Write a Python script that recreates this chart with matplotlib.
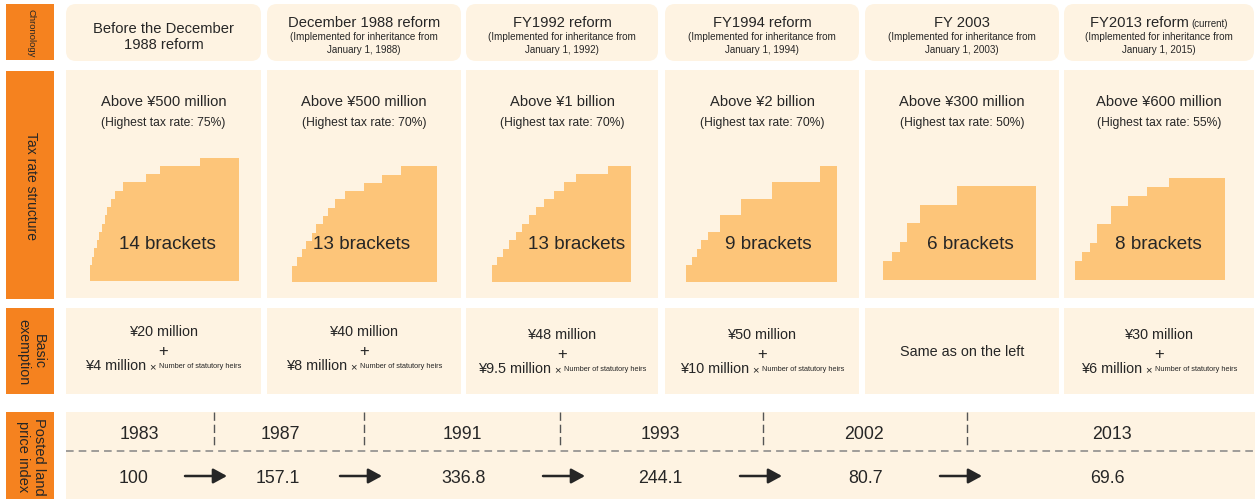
import matplotlib.pyplot as plt
from matplotlib.patches import Rectangle, FancyBboxPatch, Polygon

plt.rcParams['font.family'] = ['Liberation Sans', 'DejaVu Sans']

ORANGE = '#f5821f'
CREAM = '#fef3e2'
STAIR = '#fdc579'
TXT = '#262626'

# ---- data ----
row_labels = ['Chronology', 'Tax rate structure', 'Basic\nexemption', 'Posted land\nprice index']

reform_titles = ['Before the December\n1988 reform', 'December 1988 reform', 'FY1992 reform',
                 'FY1994 reform', 'FY 2003', 'FY2013 reform']
effective_from = [None, 'January 1, 1988', 'January 1, 1992', 'January 1, 1994',
                  'January 1, 2003', 'January 1, 2015']

top_bracket = ['¥500 million', '¥500 million', '¥1 billion', '¥2 billion', '¥300 million', '¥600 million']

# tax rate (%) of each bracket, lowest to highest
bracket_rates = [
    [10, 15, 20, 25, 30, 35, 40, 45, 50, 55, 60, 65, 70, 75],
    [10, 15, 20, 25, 30, 35, 40, 45, 50, 55, 60, 65, 70],
    [10, 15, 20, 25, 30, 35, 40, 45, 50, 55, 60, 65, 70],
    [10, 15, 20, 25, 30, 40, 50, 60, 70],
    [10, 15, 20, 30, 40, 50],
    [10, 15, 20, 30, 40, 45, 50, 55],
]
# drawn width of each bracket step (relative units)
bracket_spans = [
    [2.7, 2.0, 2.3, 2.3, 2.7, 3.0, 2.3, 4.0, 4.3, 7.3, 23.3, 14.3, 39.3, 39.7],
    [5.0, 4.3, 4.7, 5.3, 4.3, 6.7, 5.0, 7.7, 10.0, 18.3, 18.0, 19.3, 36.3],
    [5.0, 5.3, 6.3, 7.0, 6.3, 6.7, 7.0, 8.0, 10.0, 10.3, 12.0, 31.3, 23.3],
    [5.7, 5.0, 4.0, 7.7, 11.7, 21.0, 31.0, 48.0, 17.0],
    [8.3, 8.3, 7.3, 13.0, 36.7, 78.7],
    [7.3, 7.7, 6.7, 14.0, 17.7, 19.0, 21.7, 56.0],
]

base_exemption = [20, 40, 48, 50, None, 30]      # ¥ million
per_heir = [4, 8, 9.5, 10, None, 6]              # ¥ million

index_years = ['1983', '1987', '1991', '1993', '2002', '2013']
land_index = ['100', '157.1', '336.8', '244.1', '80.7', '69.6']

# ---- layout (pixels) ----
col_left = [66, 267, 466, 665, 865, 1064]
col_w = [195, 194, 192, 194, 194, 190]
stair_x0 = [89.7, 292.3, 492.3, 686, 883.3, 1075]
stair_base = [282.3, 283.3, 282.7, 282.7, 280.7, 280.7]
stair_scale = [1.65, 1.657, 1.657, 1.657, 1.88, 1.85]   # px per percentage point
stair_label_x = [167, 362, 577, 768, 970, 1158]
ex_dy = [0, 0, 3, 3, 0, 3]

year_x = [139.5, 280.5, 462, 660, 864, 1112]
value_x = [134, 278, 464, 660, 866, 1107]
divider_x = [214, 364, 560, 763, 967]
arrow_x = [185, 340, 543, 740, 940]


def chain(ax, cx, y, parts, va='center'):
    # parts: (text, fontsize, dy, gap_before); whole group centred on cx
    r = ax.figure.canvas.get_renderer()
    items = []
    for s, fs, dy, gap in parts:
        t = ax.text(0, y + dy, s, fontsize=fs, ha='left', va=va, color=TXT)
        items.append((t, t.get_window_extent(renderer=r).width, gap))
    total = sum(w + g for _, w, g in items)
    x = cx - total / 2
    for t, w, g in items:
        x += g
        t.set_x(x)
        x += w


fig = plt.figure(figsize=(12.55, 5.02), dpi=100)
ax = fig.add_axes([0, 0, 1, 1])
ax.set_xlim(0, 1255)
ax.set_ylim(502, 0)
ax.axis('off')

# left labels
label_rows = [(5, 61, 6.8), (72, 300, 10), (309, 395, 10.3), (413, 500, 10.5)]
for lab, (y0, y1, fs) in zip(row_labels, label_rows):
    ax.add_patch(Rectangle((6, y0), 48, y1 - y0, color=ORANGE, lw=0))
    ax.text(31, (y0 + y1) / 2, lab, rotation=270, ha='center', va='center',
            fontsize=fs, color=TXT, linespacing=1.15, multialignment='center')

for i in range(6):
    x0, w = col_left[i], col_w[i]
    cx = x0 + w / 2

    # chronology header
    ax.add_patch(FancyBboxPatch((x0 + 10, 15), w - 20, 37,
                                boxstyle='round,pad=10,rounding_size=10', color=CREAM, lw=0))
    if effective_from[i] is None:
        ax.text(cx, 36.7, reform_titles[i], ha='center', va='center', fontsize=10.6,
                color=TXT, linespacing=1.2)
    else:
        if i == 5:
            chain(ax, cx, 27, [(reform_titles[i], 10.6, 0, 0), ('(current)', 6.9, 0, 3)],
                  va='baseline')
        else:
            ax.text(cx, 22.7, reform_titles[i], ha='center', va='center', fontsize=10.6, color=TXT)
        ax.text(cx, 37.3, '(Implemented for inheritance from', ha='center', va='center',
                fontsize=7.1, color=TXT)
        ax.text(cx, 50, effective_from[i] + ')', ha='center', va='center', fontsize=7.1, color=TXT)

    # tax rate structure
    ax.add_patch(Rectangle((x0, 71), w, 228, color=CREAM, lw=0))
    rates = bracket_rates[i]
    ax.text(cx, 101.7, 'Above ' + top_bracket[i], ha='center', va='center', fontsize=10.6, color=TXT)
    ax.text(cx, 123.3, f'(Highest tax rate: {max(rates)}%)', ha='center', va='center',
            fontsize=8.7, color=TXT)

    spans = bracket_spans[i]
    base, sc = stair_base[i], stair_scale[i]
    xs = stair_x0[i]
    pts = [(xs, base)]
    for span, rate in zip(spans, rates):
        pts.append((xs, base - rate * sc))
        xs += span
        pts.append((xs, base - rate * sc))
    pts.append((xs, base))
    ax.add_patch(Polygon(pts, closed=True, color=STAIR, lw=0))
    ax.text(stair_label_x[i], 245, f'{len(rates)} brackets', ha='center', va='center',
            fontsize=13.6, color=TXT)

    # basic exemption
    ax.add_patch(Rectangle((x0, 309), w, 86, color=CREAM, lw=0))
    if base_exemption[i] is None:
        ax.text(cx, 352, 'Same as on the left', ha='center', va='center', fontsize=10.4, color=TXT)
    else:
        d = ex_dy[i]
        ax.text(cx, 332 + d, f'¥{base_exemption[i]:g} million', ha='center', va='center',
                fontsize=10.4, color=TXT)
        ax.text(cx, 352 + d, '+', ha='center', va='center', fontsize=12, color=TXT)
        chain(ax, cx, 366 + d, [(f'¥{per_heir[i]:g} million', 10.4, 0, 0),
                                ('×', 8, 1.5, 3),
                                ('Number of statutory heirs', 5.3, 0.5, 3)])

# posted land price index
ax.add_patch(Rectangle((66, 413), 1189, 87, color=CREAM, lw=0))
ax.plot([66, 1255], [452, 452], color='#858585', lw=1.1, ls=(0, (5, 3.3)))
for xd in divider_x:
    ax.plot([xd, xd], [413, 447], color='#555555', lw=1.0, ls=(0, (6, 2.8)))
for yr, xv in zip(index_years, year_x):
    ax.text(xv, 435, yr, ha='center', va='center', fontsize=12.8, color=TXT)
for v, xv in zip(land_index, value_x):
    ax.text(xv, 479, v, ha='center', va='center', fontsize=12.8, color=TXT)
for xa in arrow_x:
    ax.annotate('', xy=(xa + 42, 477), xytext=(xa, 477),
                arrowprops=dict(arrowstyle='-|>,head_length=0.55,head_width=0.3', lw=1.8,
                                color=TXT, mutation_scale=15, shrinkA=0, shrinkB=0))

fig.savefig('out.png', dpi=100)
